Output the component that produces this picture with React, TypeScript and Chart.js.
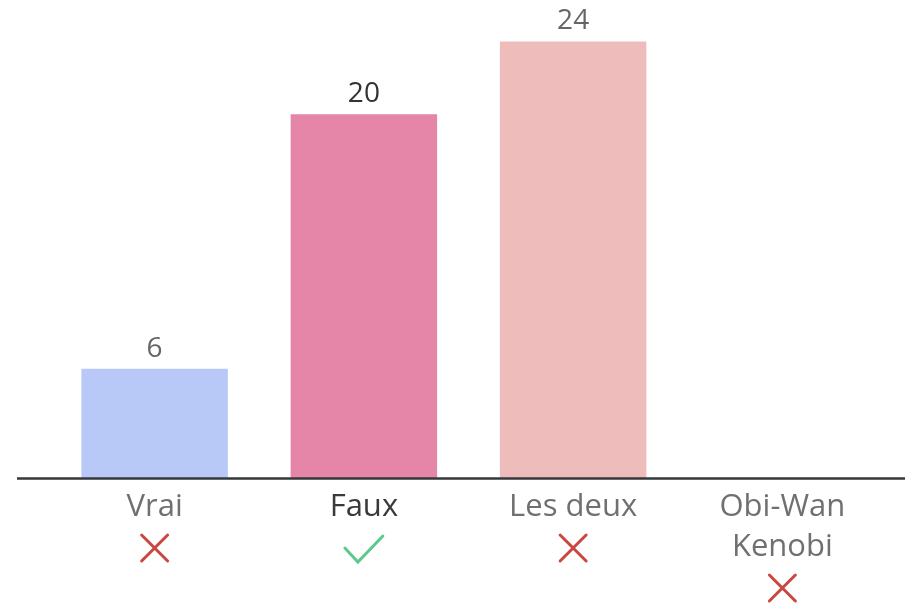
import React, { useEffect, useRef } from "react";
import { Chart, registerables } from "chart.js";

Chart.register(...registerables);

const categories: string[][] = [["Vrai"], ["Faux"], ["Les deux"], ["Obi-Wan", "Kenobi"]];
const values: number[] = [6, 20, 24, 0];
const barColors: string[] = ["#b8c9f7", "#e586a9", "#eebdbb"];
const correct: boolean[] = [false, true, false, false];
const highlightIndex = 1;

const FONT = "'Open Sans', Lato, sans-serif";
const LINE_H = 40;
const TICK_PAD = 9;

const overlayPlugin = {
  id: "overlay",
  afterDatasetsDraw(chart: any) {
    const ctx = chart.ctx;
    const xs = chart.scales.x;
    const ys = chart.scales.y;
    const meta = chart.getDatasetMeta(0);
    ctx.save();
    // value labels
    ctx.font = `28px ${FONT}`;
    ctx.textAlign = "center";
    ctx.textBaseline = "middle";
    meta.data.forEach((bar: any, i: number) => {
      if (!values[i]) return;
      ctx.fillStyle = i === highlightIndex ? "#333333" : "#666666";
      ctx.fillText(String(values[i]), bar.x, bar.y - 20);
    });
    // axis line
    const y0 = ys.getPixelForValue(0);
    ctx.strokeStyle = "#35383b";
    ctx.lineWidth = 2.5;
    ctx.beginPath();
    ctx.moveTo(17, y0 + 0.5);
    ctx.lineTo(chart.width, y0 + 0.5);
    ctx.stroke();
    // marks
    categories.forEach((lines, i) => {
      const cx = xs.getPixelForValue(i);
      const cy = xs.top + TICK_PAD + LINE_H * lines.length + LINE_H / 2 + 1;
      ctx.lineCap = "round";
      ctx.lineWidth = 3;
      if (correct[i]) {
        ctx.strokeStyle = "#5cc98b";
        ctx.beginPath();
        ctx.moveTo(cx - 19, cy);
        ctx.lineTo(cx - 6, cy + 14);
        ctx.lineTo(cx + 19, cy - 12);
        ctx.stroke();
      } else {
        ctx.strokeStyle = "#c9473f";
        const s = 13;
        ctx.beginPath();
        ctx.moveTo(cx - s, cy - s);
        ctx.lineTo(cx + s, cy + s);
        ctx.moveTo(cx + s, cy - s);
        ctx.lineTo(cx - s, cy + s);
        ctx.stroke();
      }
    });
    ctx.restore();
  },
};

export default function App() {
  const ref = useRef<HTMLCanvasElement | null>(null);
  useEffect(() => {
    document.body.style.margin = "0";
    const chart = new Chart(ref.current as HTMLCanvasElement, {
      type: "bar",
      data: {
        labels: categories,
        datasets: [
          {
            data: values,
            backgroundColor: barColors,
            borderWidth: 0,
            categoryPercentage: 1,
            barPercentage: 0.7,
          },
        ],
      },
      options: {
        animation: false,
        responsive: false,
        devicePixelRatio: 1,
        layout: { padding: { left: 50, right: 18, top: 5, bottom: 0 } },
        plugins: { legend: { display: false }, tooltip: { enabled: false } },
        scales: {
          y: { display: false, min: 0, max: 26 },
          x: {
            grid: { display: false, drawTicks: false },
            border: { display: false },
            afterFit: (scale: any) => {
              scale.height = 130;
            },
            ticks: {
              padding: TICK_PAD,
              maxRotation: 0,
              autoSkip: false,
              font: { family: FONT, size: 31, lineHeight: `${LINE_H}px` },
              color: (c: any) => (c.index === highlightIndex ? "#3a3a3a" : "#707070"),
            },
          },
        },
      },
      plugins: [overlayPlugin],
    });
    return () => chart.destroy();
  }, []);
  return <canvas ref={ref} width={905} height={608} style={{ display: "block" }} />;
}
